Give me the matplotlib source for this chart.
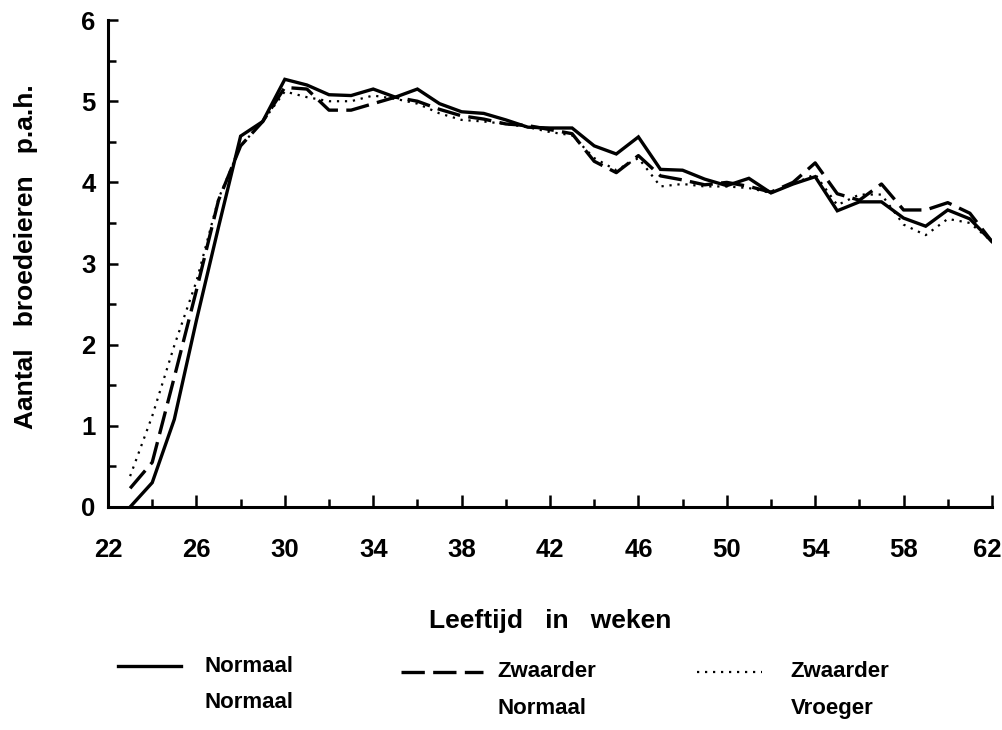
import matplotlib
matplotlib.use('Agg')
import matplotlib.pyplot as plt
import matplotlib.transforms as mtransforms
from matplotlib.lines import Line2D

plt.rcParams['font.family'] = ['Liberation Sans', 'DejaVu Sans']
plt.rcParams['font.weight'] = 'bold'

# weeks 23..62
weeks = list(range(23, 63))

# Normaal / Normaal (solid)
normaal = [0.00, 0.30, 1.08, 2.30, 3.45, 4.57, 4.75, 5.27, 5.20, 5.08,
           5.07, 5.15, 5.05, 5.15, 4.97, 4.87, 4.85, 4.77, 4.68, 4.67,
           4.67, 4.45, 4.35, 4.56, 4.16, 4.15, 4.04, 3.96, 4.05, 3.87,
           3.98, 4.07, 3.65, 3.76, 3.76, 3.56, 3.46, 3.66, 3.55, 3.27]

# Zwaarder / Normaal (dashed)
zw_normaal = [0.23, 0.55, 1.60, 2.67, 3.78, 4.45, 4.75, 5.17, 5.15, 4.89,
              4.89, 4.97, 5.05, 5.00, 4.90, 4.82, 4.78, 4.72, 4.70, 4.65,
              4.60, 4.26, 4.12, 4.33, 4.08, 4.03, 3.97, 4.00, 3.95, 3.88,
              4.00, 4.24, 3.86, 3.78, 3.98, 3.66, 3.66, 3.75, 3.62, 3.27]

# Zwaarder / Vroeger (dotted)
zw_vroeger = [0.38, 1.12, 1.99, 2.78, 3.80, 4.45, 4.75, 5.12, 5.05, 5.00,
              5.00, 5.07, 5.03, 4.97, 4.85, 4.77, 4.75, 4.72, 4.68, 4.62,
              4.58, 4.30, 4.15, 4.30, 3.95, 3.98, 3.95, 3.95, 3.93, 3.87,
              3.98, 4.10, 3.72, 3.85, 3.85, 3.48, 3.35, 3.55, 3.50, 3.27]

xticks = list(range(22, 63, 4))
yticks = [0, 1, 2, 3, 4, 5, 6]

fig = plt.figure(figsize=(10.03, 7.3), dpi=100)
ax = fig.add_axes([0.1077, 0.3055, 0.8813, 0.667])

ax.plot(weeks, normaal, color='black', lw=2.4, solid_joinstyle='miter')
ax.plot(weeks, zw_normaal, color='black', lw=2.4, dashes=(7, 2.5))
ax.plot(weeks, zw_vroeger, color='black', lw=1.6, dashes=(1, 2.6))

ax.set_xlim(22, 62)
ax.set_ylim(0, 6)
ax.spines['top'].set_visible(False)
ax.spines['right'].set_visible(False)
ax.spines['left'].set_linewidth(2.2)
ax.spines['bottom'].set_linewidth(2.2)

ax.set_xticks(xticks)
ax.set_xticks(range(22, 63, 2), minor=True)
ax.set_yticks(yticks)
ax.set_yticks([i * 0.5 for i in range(13)], minor=True)
ax.tick_params(axis='both', which='both', direction='in', width=1.8, color='black')
ax.tick_params(axis='x', which='major', length=9, pad=22, labelsize=18.5)
ax.tick_params(axis='x', which='minor', length=6)
ax.tick_params(axis='y', which='major', length=7, pad=9, labelsize=18.5)
ax.tick_params(axis='y', which='minor', length=6)
for lab in ax.get_xticklabels() + ax.get_yticklabels():
    lab.set_fontweight('bold')

# keep the last x label inside the figure
last = ax.get_xticklabels()[-1]
last.set_transform(last.get_transform() +
                   mtransforms.ScaledTranslation(-5 / 100, 0, fig.dpi_scale_trans))

ax.set_xlabel('Leeftijd   in   weken', fontsize=19, fontweight='bold', labelpad=34)
ax.set_ylabel('Aantal   broedeieren   p.a.h.', fontsize=19, fontweight='bold')
ax.yaxis.set_label_coords(-0.079, 0.515)

# legend drawn at the bottom
leg_items = [
    ((0.118, 0.180), 0.087, dict(lw=2.4), 'Normaal', 'Normaal', 0.204),
    ((0.400, 0.482), 0.080, dict(lw=2.4, dashes=(7, 2.5)), 'Zwaarder', 'Normaal', 0.496),
    ((0.695, 0.760), 0.080, dict(lw=1.6, dashes=(1, 2.6)), 'Zwaarder', 'Vroeger', 0.788),
]
for (x0, x1), yl, style_kw, t1, t2, tx in leg_items:
    fig.add_artist(Line2D([x0, x1], [yl, yl], color='black', transform=fig.transFigure, **style_kw))
    fig.text(tx, yl, t1, fontsize=16, fontweight='bold', va='center', ha='left')
    fig.text(tx, yl - 0.05, t2, fontsize=16, fontweight='bold', va='center', ha='left')

fig.savefig('out.png', dpi=100)
